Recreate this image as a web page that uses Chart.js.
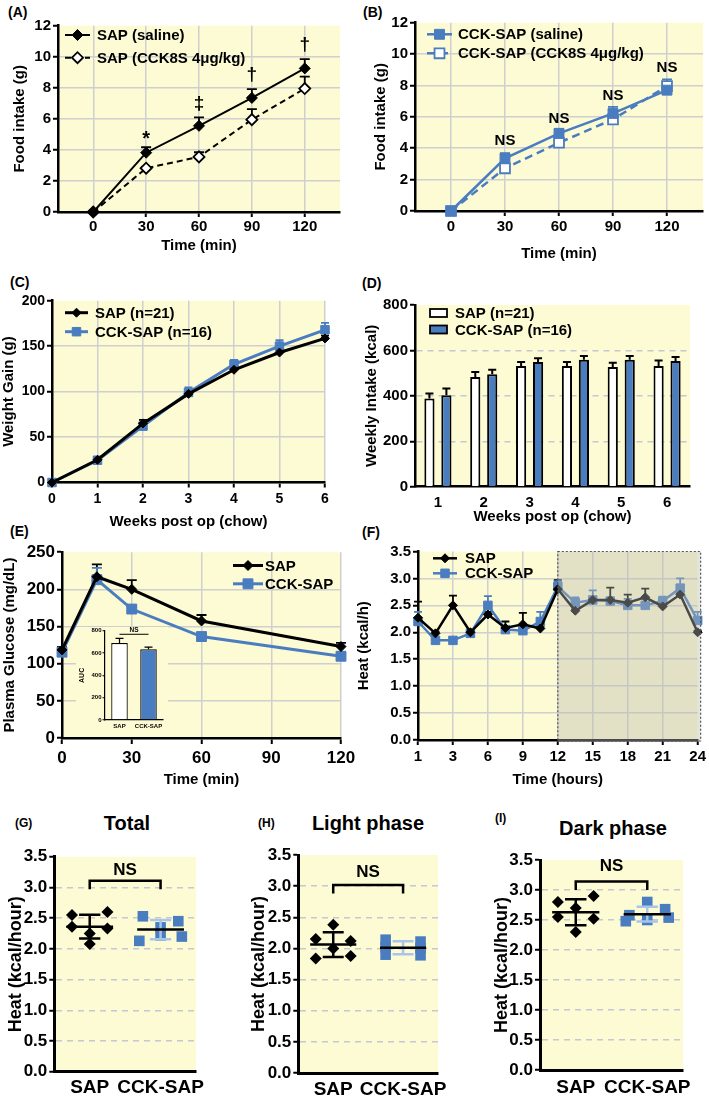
<!DOCTYPE html>
<html>
<head>
<meta charset="utf-8">
<title>CCK-SAP intake, weight, glucose and heat</title>
<script src="https://cdn.jsdelivr.net/npm/chart.js@4.4.1/dist/chart.umd.min.js"></script>
<style>
  html, body { margin: 0; padding: 0; background: #fff; }
  #page { position: relative; width: 709px; height: 1100px; overflow: hidden;
          font-family: "Liberation Sans", Arial, sans-serif; font-weight: bold; color: #000; }
  #page canvas { position: absolute; }
  .tag { position: absolute; font-size: 14px; line-height: 1; transform: translateY(-50%); }
  .tag.small { font-size: 12px; }
  .head { position: absolute; font-size: 20px; line-height: 1; transform: translate(-50%, -50%); white-space: nowrap; }
</style>
</head>
<body>
<div id="page">
  <div class="tag" style="left:8px;top:12px">(A)</div>
  <div class="tag" style="left:363px;top:12px">(B)</div>
  <div class="tag" style="left:10px;top:282px">(C)</div>
  <div class="tag" style="left:362px;top:283px">(D)</div>
  <div class="tag" style="left:10px;top:531px">(E)</div>
  <div class="tag" style="left:362px;top:532px">(F)</div>
  <div class="tag small" style="left:15px;top:823px">(G)</div>
  <div class="tag small" style="left:258px;top:823px">(H)</div>
  <div class="tag small" style="left:495px;top:818px">(I)</div>
  <div class="head" style="left:127px;top:823px">Total</div>
  <div class="head" style="left:368px;top:823px">Light phase</div>
  <div class="head" style="left:613px;top:828px">Dark phase</div>
</div>
<script>
// ---------- data ----------
// (A) SAP rats: food intake after saline or CCK8S
const minutes = [0, 30, 60, 90, 120];
const sapSaline = [0, 3.82, 5.55, 7.35, 9.25];
const sapSalineErr = [0, 0.35, 0.55, 0.57, 0.6];
const sapCck8s = [0, 2.82, 3.55, 5.95, 7.95];
const sapCck8sErr = [0, 0.08, 0.3, 0.67, 0.77];
const sigA = ['*', '‡', '†', '†'];
const sigAAt = [4.65, 6.96, 8.83, 10.76];

// (B) CCK-SAP rats
const cckSaline = [0, 3.36, 4.95, 6.22, 7.7];
const cckSalineErr = [0, 0.32, 0.25, 0.42, 0.3];
const cckCck8s = [0, 2.72, 4.35, 5.84, 7.96];
const cckCck8sErr = [0, 0.08, 0.1, 0.1, 0.43];
const sigB = ['NS', 'NS', 'NS', 'NS'];
const sigBAt = [4.5, 5.9, 7.35, 9.1];

// (C) weight gain
const weeks = [0, 1, 2, 3, 4, 5, 6];
const sapGain = [0, 25, 65, 97.5, 124, 143, 158.5];
const sapGainErr = [0, 2, 4, 3, 3, 3.5, 3];
const cckGain = [0, 24.5, 62, 99, 130, 150, 168];
const cckGainErr = [0, 2, 3, 5.5, 5, 6.5, 7.5];

// (D) weekly intake
const weekLabels = ['1', '2', '3', '4', '5', '6'];
const sapWeekly = [388, 483, 531, 531, 527, 531];
const sapWeeklyErr = [22, 22, 18, 18, 19, 25];
const cckWeekly = [403, 495, 549, 559, 559, 553];
const cckWeeklyErr = [29, 20, 17, 16, 16, 18];

// (E) glucose tolerance and AUC inset
const glucMinutes = [0, 15, 30, 60, 120];
const sapGluc = [118.5, 217, 200, 157.5, 123];
const sapGlucErr = [4, 16.5, 12.5, 8, 5];
const cckGluc = [115.5, 213, 173.5, 136.5, 110];
const cckGlucErr = [3, 16, 3, 3, 3];
const aucGroups = ['SAP', 'CCK-SAP'];
const aucMean = [690, 633];
const aucErr = [42, 20];

// (F) heat over 24 h
const hourBins = ['1', '2', '3', '4.5', '6', '7.5', '9', '10.5', '12', '13.5', '15', '16.5', '18', '19.5', '21', '22.5', '24'];
const sapHeat = [2.27, 1.98, 2.5, 2.0, 2.33, 2.08, 2.15, 2.07, 2.8, 2.4, 2.6, 2.6, 2.55, 2.65, 2.48, 2.7, 2.0];
const sapHeatErr = [0.3, 0.03, 0.18, 0.03, 0.05, 0.12, 0.21, 0.03, 0.17, 0.03, 0.05, 0.23, 0.15, 0.16, 0.03, 0.03, 0.03];
const cckHeat = [2.2, 1.85, 1.85, 1.98, 2.5, 2.05, 2.03, 2.2, 2.85, 2.55, 2.6, 2.58, 2.5, 2.5, 2.58, 2.82, 2.22];
const cckHeatErr = [0.18, 0.03, 0.03, 0.03, 0.17, 0.05, 0.05, 0.18, 0.1, 0.1, 0.18, 0.05, 0.12, 0.05, 0.08, 0.18, 0.16];
const darkFrom = 8; // bin index of hour 12, lights off

// (G-I) heat per rat
const groups = ['SAP', 'CCK-SAP'];
const totalSap = [2.55, 2.6, 2.36, 2.33, 2.25, 2.08];
const totalCck = [2.53, 2.45, 2.35, 2.13, 2.22, 2.2];
const lightSap = [2.38, 2.15, 2.12, 2.0, 1.84, 1.88];
const lightCck = [2.14, 2.11, 2.02, 2.01, 1.9, 1.89];
const darkSap = [2.8, 2.9, 2.7, 2.55, 2.52, 2.3];
const darkCck = [2.8, 2.58, 2.68, 2.48, 2.5, 2.54];
const nsBar = [3.11, 3.02, 3.14];
const nsText = [3.28, 3.23, 3.39];

// ---------- look ----------
const FONT = '"Liberation Sans", Arial, Helvetica, sans-serif';
const YELLOW = '#fdfbd3';
const BLUE = '#4a7cc0';
const SD_BLUE = '#a9c5e9';
const GRID = '#cfcfcf';
const DASHED = '#c5c7d3';
const NONE = 'rgba(0,0,0,0)';

const bold = size => ({ family: FONT, size: size, weight: 'bold' });
const page = document.getElementById('page');

function addCanvas(box) {
  const c = document.createElement('canvas');
  c.width = box[2];
  c.height = box[3];
  c.style.left = box[0] + 'px';
  c.style.top = box[1] + 'px';
  page.appendChild(c);
  return c;
}

// no grid line on the top edge of the plot
const gridBelow = (max, color) => c => (c.tick && c.tick.value >= max - 1e-9) ? NONE : color;

// options that put the plot area at a fixed place in the canvas
function frame(box, area, o) {
  const [bl, bt, bw, bh] = box;
  const [al, at, ar, ab] = area;
  const xTick = o.xTick === undefined ? 5 : o.xTick;
  return {
    responsive: false,
    animation: false,
    events: [],
    layout: { autoPadding: false, padding: { left: 0, top: at - bt, right: bl + bw - ar, bottom: 0 } },
    plugins: { legend: { display: false }, tooltip: { enabled: false } },
    scales: {
      x: {
        afterFit: s => { s.height = bt + bh - ab; },
        border: { color: '#000', width: o.axisW || 2.5 },
        grid: { color: GRID, lineWidth: 1.5, tickColor: '#000', tickWidth: 2, tickLength: xTick, drawTicks: xTick > 0 },
        ticks: { color: '#000', font: bold(o.xFont || o.tick), padding: o.xPad || 0, maxRotation: 0, autoSkip: false },
        title: { display: !!o.xTitle, text: o.xTitle || '', color: '#000', font: bold(o.title), padding: { top: 0, bottom: o.xTitlePad || 0 } }
      },
      y: {
        afterFit: s => { s.width = al - bl; },
        border: { color: '#000', width: o.axisW || 2.5 },
        grid: { color: GRID, lineWidth: 1.5, tickColor: '#000', tickWidth: 2, tickLength: 5 },
        ticks: { color: '#000', font: bold(o.tick), padding: 2, autoSkip: false },
        title: { display: !!o.yTitle, text: o.yTitle || '', color: '#000', font: bold(o.title), padding: { top: o.yTitlePad || 0, bottom: 0 } }
      }
    }
  };
}

function marker(ctx, style, x, y, r, fill, stroke, lw) {
  ctx.beginPath();
  if (style === 'rect') {
    const s = r * Math.SQRT1_2;
    ctx.rect(x - s, y - s, 2 * s, 2 * s);
  } else {
    ctx.moveTo(x - r, y);
    ctx.lineTo(x, y - r);
    ctx.lineTo(x + r, y);
    ctx.lineTo(x, y + r);
    ctx.closePath();
  }
  ctx.fillStyle = fill;
  ctx.fill();
  if (lw) {
    ctx.lineWidth = lw;
    ctx.strokeStyle = stroke;
    ctx.stroke();
  }
}

function lineSet(label, xs, ys, err, s) {
  return {
    label: label,
    data: xs ? xs.map((x, i) => ({ x: x, y: ys[i] })) : ys,
    errUp: err,
    borderColor: s.color,
    borderWidth: s.width,
    borderDash: s.dash || [],
    pointStyle: s.style,
    pointRadius: s.r,
    pointBackgroundColor: s.open ? '#fff' : s.color,
    pointBorderColor: s.color,
    pointBorderWidth: s.open ? 1.8 : 1,
    tension: 0,
    clip: false,
    capW: s.cap || 5
  };
}

// spread dots of nearly equal value side by side
function spread(vals, center) {
  const order = vals.map((v, i) => i).sort((a, b) => vals[b] - vals[a]);
  const xs = [];
  let row = [];
  const flush = () => {
    row.sort((a, b) => a - b);
    const n = row.length;
    const step = n > 2 ? 0.6 / (n - 1) : 0.5;
    row.forEach((idx, k) => { xs[idx] = center + (k - (n - 1) / 2) * step; });
    row = [];
  };
  order.forEach(i => {
    if (row.length && vals[row[0]] - vals[i] > 0.105) flush();
    row.push(i);
  });
  flush();
  return xs;
}

function dotSet(vals, center, s) {
  const xs = spread(vals, center);
  return {
    data: vals.map((v, i) => ({ x: xs[i], y: v })),
    values: vals,
    center: center,
    sdColor: s.sd,
    pointStyle: s.style,
    pointRadius: s.r,
    pointBackgroundColor: s.color,
    pointBorderColor: s.color,
    pointBorderWidth: 0,
    clip: false
  };
}

// ---------- plugins ----------
const plotBg = {
  id: 'plotBg',
  beforeDraw(chart, args, o) {
    const ctx = chart.ctx, a = chart.chartArea;
    ctx.save();
    ctx.fillStyle = YELLOW;
    if (o.full) ctx.fillRect(0, o.top || 0, chart.width, chart.height - (o.top || 0));
    else ctx.fillRect(a.left, a.top, a.right - a.left, a.bottom - a.top);
    ctx.restore();
  }
};

function drawErrors(chart) {
  const ctx = chart.ctx;
  chart.data.datasets.forEach((ds, i) => {
    if (!ds.errUp) return;
    const meta = chart.getDatasetMeta(i);
    const ys = chart.scales[meta.yAxisID];
    ctx.save();
    ctx.strokeStyle = ds.errColor || ds.borderColor;
    ctx.lineWidth = ds.errWidth || 1.8;
    ctx.beginPath();
    meta.data.forEach((el, j) => {
      const e = ds.errUp[j];
      if (!e) return;
      const raw = ds.data[j];
      const v = typeof raw === 'object' ? raw.y : raw;
      const top = ys.getPixelForValue(v + e);
      const w = ds.capW || 5;
      ctx.moveTo(el.x, el.y);
      ctx.lineTo(el.x, top);
      ctx.moveTo(el.x - w, top);
      ctx.lineTo(el.x + w, top);
    });
    ctx.stroke();
    ctx.restore();
  });
}

const errorBars = {
  id: 'errorBars',
  beforeDatasetsDraw(chart) { if (chart.config.type !== 'bar') drawErrors(chart); },
  afterDatasetsDraw(chart) { if (chart.config.type === 'bar') drawErrors(chart); }
};

const miniLegend = {
  id: 'miniLegend',
  afterDraw(chart, args, o) {
    if (o.x === undefined) return;
    const ctx = chart.ctx, a = chart.chartArea;
    chart.data.datasets.forEach((ds, i) => {
      const y = a.top + o.y + i * o.dy;
      const x0 = a.left + o.x;
      ctx.save();
      if (o.box) {
        ctx.fillStyle = ds.backgroundColor;
        ctx.fillRect(x0, y - o.bh / 2, o.len, o.bh);
        ctx.strokeStyle = '#000';
        ctx.lineWidth = 1.8;
        ctx.strokeRect(x0, y - o.bh / 2, o.len, o.bh);
      } else {
        ctx.strokeStyle = ds.borderColor;
        ctx.lineWidth = ds.borderWidth;
        ctx.setLineDash(ds.borderDash || []);
        ctx.beginPath();
        ctx.moveTo(x0, y);
        ctx.lineTo(x0 + o.len, y);
        ctx.stroke();
        ctx.setLineDash([]);
        marker(ctx, ds.pointStyle, x0 + o.len / 2, y, ds.pointRadius,
               ds.pointBackgroundColor, ds.pointBorderColor, ds.pointBorderWidth);
      }
      ctx.fillStyle = '#000';
      ctx.font = 'bold ' + o.size + 'px ' + FONT;
      ctx.textAlign = 'left';
      ctx.textBaseline = 'middle';
      ctx.fillText(ds.label, a.left + o.tx, y + 1);
      ctx.restore();
    });
  }
};

const notes = {
  id: 'notes',
  afterDatasetsDraw(chart, args, o) {
    if (!o.items) return;
    const ctx = chart.ctx;
    o.items.forEach(n => {
      ctx.save();
      ctx.fillStyle = '#000';
      ctx.font = 'bold ' + n.size + 'px ' + FONT;
      ctx.textAlign = 'center';
      ctx.textBaseline = 'middle';
      ctx.fillText(n.text, chart.scales.x.getPixelForValue(n.x), chart.scales.y.getPixelForValue(n.y));
      ctx.restore();
    });
  }
};

const darkPhase = {
  id: 'darkPhase',
  afterDatasetsDraw(chart, args, o) {
    if (o.from === undefined) return;
    const ctx = chart.ctx, a = chart.chartArea;
    const x0 = chart.scales.x.getPixelForValue(o.from);
    const w = a.right + 3 - x0, h = a.bottom + 1 - a.top;
    ctx.save();
    ctx.fillStyle = 'rgba(186, 188, 180, 0.4)';
    ctx.fillRect(x0, a.top, w, h);
    ctx.strokeStyle = '#555';
    ctx.lineWidth = 1.2;
    ctx.setLineDash([2, 2]);
    ctx.strokeRect(x0, a.top, w, h);
    ctx.restore();
  }
};

const meanSd = {
  id: 'meanSd',
  afterDatasetsDraw(chart, args, o) {
    if (o.half === undefined) return;
    const ctx = chart.ctx, xs = chart.scales.x, ys = chart.scales.y;
    chart.data.datasets.forEach(ds => {
      const v = ds.values, n = v.length;
      const m = v.reduce((s, b) => s + b, 0) / n;
      const sd = Math.sqrt(v.reduce((s, b) => s + (b - m) * (b - m), 0) / (n - 1));
      const c = ds.center;
      const px = u => xs.getPixelForValue(u);
      ctx.save();
      ctx.lineWidth = o.lw;
      ctx.strokeStyle = ds.sdColor;
      ctx.beginPath();
      ctx.moveTo(px(c), ys.getPixelForValue(m - sd));
      ctx.lineTo(px(c), ys.getPixelForValue(m + sd));
      [m - sd, m + sd].forEach(e => {
        const y = ys.getPixelForValue(e);
        ctx.moveTo(px(c - o.cap), y);
        ctx.lineTo(px(c + o.cap), y);
      });
      ctx.stroke();
      ctx.strokeStyle = '#000';
      ctx.beginPath();
      const ym = ys.getPixelForValue(m);
      ctx.moveTo(px(c - o.half), ym);
      ctx.lineTo(px(c + o.half), ym);
      ctx.stroke();
      ctx.restore();
    });
  }
};

const bracket = {
  id: 'bracket',
  afterDatasetsDraw(chart, args, o) {
    if (o.y === undefined) return;
    const ctx = chart.ctx, xs = chart.scales.x, ys = chart.scales.y;
    const x1 = xs.getPixelForValue(o.from), x2 = xs.getPixelForValue(o.to);
    const y = ys.getPixelForValue(o.y);
    ctx.save();
    ctx.strokeStyle = '#000';
    ctx.lineWidth = o.lw;
    ctx.beginPath();
    if (o.drop) {
      const yd = ys.getPixelForValue(o.y - o.drop);
      ctx.moveTo(x1, yd);
      ctx.lineTo(x1, y);
      ctx.lineTo(x2, y);
      ctx.lineTo(x2, yd);
    } else {
      ctx.moveTo(x1, y);
      ctx.lineTo(x2, y);
    }
    ctx.stroke();
    ctx.fillStyle = '#000';
    ctx.font = 'bold ' + o.size + 'px ' + FONT;
    ctx.textAlign = 'center';
    ctx.textBaseline = 'middle';
    ctx.fillText(o.text, (x1 + x2) / 2, ys.getPixelForValue(o.textAt));
    ctx.restore();
  }
};

// ---------- (A) ----------
const boxA = [0, 0, 355, 262];
const optA = frame(boxA, [58, 25.7, 340, 212],
  { tick: 15, title: 15, xTitle: 'Time (min)', yTitle: 'Food intake (g)', xPad: 1, xTitlePad: 7, yTitlePad: 11 });
Object.assign(optA.scales.x, { type: 'linear', min: -20, max: 140,
  afterBuildTicks: s => { s.ticks = minutes.map(v => ({ value: v })); } });
Object.assign(optA.scales.y, { min: 0, max: 12 });
optA.scales.y.ticks.stepSize = 2;
optA.scales.y.grid.color = gridBelow(12, GRID);
optA.plugins.miniLegend = { x: 7, len: 25, tx: 39, y: 9.3, dy: 22.7, size: 15 };
optA.plugins.notes = { items: sigA.map((t, i) => ({ x: minutes[i + 1], y: sigAAt[i], text: t, size: t === '*' ? 20 : 19 })) };
new Chart(addCanvas(boxA), {
  type: 'line',
  data: { datasets: [
    lineSet('SAP (saline)', minutes, sapSaline, sapSalineErr, { color: '#000', width: 2, style: 'rectRot', r: 5.5 }),
    lineSet('SAP (CCK8S 4μg/kg)', minutes, sapCck8s, sapCck8sErr, { color: '#000', width: 2, style: 'rectRot', r: 5.5, open: true, dash: [6, 4] })
  ] },
  options: optA,
  plugins: [plotBg, errorBars, miniLegend, notes]
});

// ---------- (B) ----------
const boxB = [355, 0, 354, 270];
const optB = frame(boxB, [415, 22.7, 703, 211],
  { tick: 15, title: 15, xTitle: 'Time (min)', yTitle: 'Food intake (g)', xPad: 2, xTitlePad: 7, yTitlePad: 17 });
Object.assign(optB.scales.x, { type: 'linear', min: -20, max: 140,
  afterBuildTicks: s => { s.ticks = minutes.map(v => ({ value: v })); } });
Object.assign(optB.scales.y, { min: 0, max: 12 });
optB.scales.y.ticks.stepSize = 2;
optB.scales.y.grid.color = gridBelow(12, GRID);
optB.plugins.miniLegend = { x: 12, len: 25, tx: 43, y: 11.6, dy: 19, size: 15 };
optB.plugins.notes = { items: sigB.map((t, i) => ({ x: minutes[i + 1], y: sigBAt[i], text: t, size: 15 })) };
new Chart(addCanvas(boxB), {
  type: 'line',
  data: { datasets: [
    lineSet('CCK-SAP (saline)', minutes, cckSaline, cckSalineErr, { color: BLUE, width: 2.5, style: 'rect', r: 7 }),
    lineSet('CCK-SAP (CCK8S 4μg/kg)', minutes, cckCck8s, cckCck8sErr, { color: BLUE, width: 2.5, style: 'rect', r: 7, open: true, dash: [8, 5] })
  ] },
  options: optB,
  plugins: [plotBg, errorBars, miniLegend, notes]
});

// ---------- (C) ----------
const boxC = [0, 262, 355, 278];
const optC = frame(boxC, [52, 300.7, 325, 482.5],
  { tick: 14, title: 15, xTitle: 'Weeks post op (chow)', yTitle: 'Weight Gain (g)', xPad: 3, xTitlePad: 9, yTitlePad: 0 });
Object.assign(optC.scales.x, { type: 'linear', min: 0, max: 6 });
optC.scales.x.ticks.stepSize = 1;
Object.assign(optC.scales.y, { min: 0, max: 200 });
optC.scales.y.ticks.stepSize = 50;
optC.scales.y.grid.color = gridBelow(200, GRID);
optC.plugins.miniLegend = { x: 13, len: 23, tx: 43, y: 12, dy: 19, size: 15 };
new Chart(addCanvas(boxC), {
  type: 'line',
  data: { datasets: [
    lineSet('SAP (n=21)', weeks, sapGain, sapGainErr, { color: '#000', width: 3, style: 'rectRot', r: 4.5, cap: 4 }),
    lineSet('CCK-SAP (n=16)', weeks, cckGain, cckGainErr, { color: BLUE, width: 3, style: 'rect', r: 6, cap: 4 })
  ] },
  options: optC,
  plugins: [plotBg, errorBars, miniLegend]
});

// ---------- (D) ----------
const boxD = [355, 262, 354, 278];
const optD = frame(boxD, [415, 305, 690, 486.7],
  { tick: 15, title: 15, xTitle: 'Weeks post op (chow)', yTitle: 'Weekly Intake (kcal)', xTick: 0, xPad: 7, xTitlePad: 14.3, yTitlePad: 8 });
optD.scales.x.grid.display = false;
Object.assign(optD.scales.y, { min: 0, max: 800 });
optD.scales.y.ticks.stepSize = 200;
optD.scales.y.grid.color = c => (c.tick && c.tick.value > 0 && c.tick.value < 800) ? DASHED : NONE;
optD.scales.y.border.dash = [6, 5];
optD.plugins.miniLegend = { box: true, x: 15, len: 17, bh: 8, tx: 40, y: 8, dy: 16.5, size: 15 };
new Chart(addCanvas(boxD), {
  type: 'bar',
  data: { labels: weekLabels, datasets: [
    { label: 'SAP (n=21)', data: sapWeekly, errUp: sapWeeklyErr, backgroundColor: '#fff', borderColor: '#000', borderWidth: 2,
      errColor: '#000', errWidth: 2, capW: 4, barPercentage: 0.6, categoryPercentage: 0.74 },
    { label: 'CCK-SAP (n=16)', data: cckWeekly, errUp: cckWeeklyErr, backgroundColor: BLUE, borderColor: '#000', borderWidth: 2,
      errColor: '#000', errWidth: 2, capW: 4, barPercentage: 0.6, categoryPercentage: 0.74 }
  ] },
  options: optD,
  plugins: [plotBg, errorBars, miniLegend]
});

// ---------- (E) ----------
const boxE = [0, 540, 360, 260];
const optE = frame(boxE, [62, 550.7, 341, 738],
  { tick: 17, title: 15, xTitle: 'Time (min)', yTitle: 'Plasma Glucose (mg/dL)', xTick: 6, xPad: 4, xTitlePad: 11, yTitlePad: 0.5 });
Object.assign(optE.scales.x, { type: 'linear', min: 0, max: 120 });
optE.scales.x.ticks.stepSize = 30;
Object.assign(optE.scales.y, { min: 0, max: 250 });
optE.scales.y.ticks.stepSize = 50;
optE.scales.y.grid.color = gridBelow(250, GRID);
optE.plugins.miniLegend = { x: 171, len: 30, tx: 203, y: 13.3, dy: 18.3, size: 15 };
new Chart(addCanvas(boxE), {
  type: 'line',
  data: { datasets: [
    lineSet('SAP', glucMinutes, sapGluc, sapGlucErr, { color: '#000', width: 3, style: 'rectRot', r: 5 }),
    lineSet('CCK-SAP', glucMinutes, cckGluc, cckGlucErr, { color: BLUE, width: 3, style: 'rect', r: 7 })
  ] },
  options: optE,
  plugins: [plotBg, errorBars, miniLegend]
});

// AUC inset
const boxIn = [76, 622, 92, 115];
const optIn = frame(boxIn, [105, 630.7, 163, 720],
  { tick: 6, title: 7, yTitle: 'AUC', xTick: 0, xPad: 3, yTitlePad: 1.5, axisW: 1.2 });
optIn.scales.x.grid.display = false;
optIn.scales.y.grid.drawOnChartArea = false;
optIn.scales.y.grid.tickLength = 2.5;
optIn.scales.y.grid.tickWidth = 1;
optIn.scales.y.ticks.padding = 1;
Object.assign(optIn.scales.y, { min: 0, max: 800 });
optIn.scales.y.ticks.stepSize = 200;
optIn.plugins.plotBg = { full: true, top: 5 };
optIn.plugins.bracket = { from: 0, to: 1, y: 768, drop: 0, text: 'NS', textAt: 808, size: 6.5, lw: 1 };
new Chart(addCanvas(boxIn), {
  type: 'bar',
  data: { labels: aucGroups, datasets: [{
    data: aucMean, errUp: aucErr, backgroundColor: ['#fff', BLUE], borderColor: '#000', borderWidth: 1.2,
    errColor: '#000', errWidth: 1.2, capW: 4, barPercentage: 0.57, categoryPercentage: 1
  }] },
  options: optIn,
  plugins: [plotBg, errorBars, bracket]
});

// ---------- (F) ----------
const boxF = [355, 540, 354, 260];
const optF = frame(boxF, [418, 551.5, 700, 740],
  { tick: 15, title: 15, xTitle: 'Time (hours)', yTitle: 'Heat (kcal/h)', xPad: 3, xTitlePad: 11, yTitlePad: 0 });
optF.scales.x.ticks.callback = (v, i) => i % 2 === 0 ? hourBins[i] : '';
optF.scales.x.grid.color = c => (c.index % 2 === 0 && c.index > 0 && c.index < hourBins.length - 1) ? GRID : NONE;
optF.scales.x.grid.tickColor = c => c.index % 2 === 0 ? '#000' : NONE;
Object.assign(optF.scales.y, { min: 0, max: 3.5 });
optF.scales.y.ticks.stepSize = 0.5;
optF.scales.y.ticks.callback = v => v.toFixed(1);
optF.scales.y.grid.color = gridBelow(3.5, GRID);
optF.plugins.miniLegend = { x: 15, len: 24, tx: 47, y: 6.8, dy: 15, size: 15 };
optF.plugins.darkPhase = { from: darkFrom };
new Chart(addCanvas(boxF), {
  type: 'line',
  data: { labels: hourBins, datasets: [
    lineSet('SAP', null, sapHeat, sapHeatErr, { color: '#000', width: 2.5, style: 'rectRot', r: 4.5, cap: 4 }),
    lineSet('CCK-SAP', null, cckHeat, cckHeatErr, { color: BLUE, width: 2.5, style: 'rect', r: 6, cap: 4 })
  ] },
  options: optF,
  plugins: [plotBg, errorBars, darkPhase, miniLegend]
});

// ---------- (G-I) ----------
function heatPanel(box, area, yTitlePad, xPad, sapVals, cckVals, k) {
  const o = frame(box, area,
    { tick: 17, xFont: 19, title: 18, yTitle: 'Heat (kcal/hour)', xTick: 0, xPad: xPad, yTitlePad: yTitlePad, axisW: 3 });
  Object.assign(o.scales.x, { type: 'linear', min: 0.5, max: 2.5,
    afterBuildTicks: s => { s.ticks = [{ value: 1 }, { value: 2 }]; } });
  o.scales.x.grid.display = false;
  o.scales.x.ticks.callback = v => groups[v - 1];
  Object.assign(o.scales.y, { min: 0, max: 3.5 });
  o.scales.y.ticks.stepSize = 0.5;
  o.scales.y.ticks.callback = v => v.toFixed(1);
  o.scales.y.grid.color = c => (c.tick && c.tick.value > 0 && c.tick.value < 3.5) ? DASHED : NONE;
  o.scales.y.border.dash = [6, 5];
  o.plugins.meanSd = { lw: 2.5, half: 0.33, cap: 0.15 };
  o.plugins.bracket = { from: 1, to: 2, y: nsBar[k], drop: 0.14, text: 'NS', textAt: nsText[k], size: 17, lw: 2.5 };
  new Chart(addCanvas(box), {
    type: 'scatter',
    data: { datasets: [
      dotSet(sapVals, 1, { color: '#000', style: 'rectRot', r: 6, sd: '#000' }),
      dotSet(cckVals, 2, { color: BLUE, style: 'rect', r: 7.5, sd: SD_BLUE })
    ] },
    options: o,
    plugins: [plotBg, meanSd, bracket]
  });
}

heatPanel([0, 840, 235, 260], [54.3, 856.7, 196, 1071.7], 4.9, 5, totalSap, totalCck, 0);
heatPanel([235, 840, 235, 260], [298.3, 855, 438, 1073], 12.8, 5.6, lightSap, lightCck, 1);
heatPanel([470, 840, 239, 260], [540, 860, 683, 1070], 21.7, 6.6, darkSap, darkCck, 2);
</script>
</body>
</html>
